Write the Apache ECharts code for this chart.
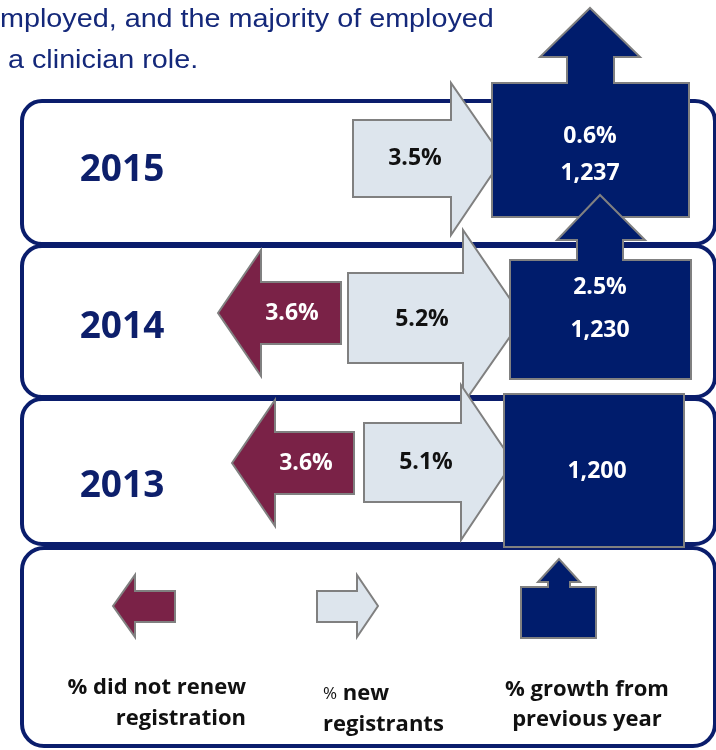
<!DOCTYPE html>
<html>
<head>
<meta charset="utf-8">
<script src="https://cdn.jsdelivr.net/npm/echarts@6/dist/echarts.min.js"></script>
<style>
  html, body { margin: 0; padding: 0; background: #fff; }
  #chart { width: 716px; height: 750px; }
</style>
</head>
<body>
<div id="chart"></div>
<script>
const years = ['2015', '2014', '2013'];
const didNotRenew = [null, 3.6, 3.6];
const newRegistrants = [3.5, 5.2, 5.1];
const growth = [0.6, 2.5, null];
const registered = [1237, 1230, 1200];

const introLines = ['mployed, and the majority of employed', 'a clinician role.'];
const legendDidNotRenew = ['% did not renew', 'registration'];
const legendNew = ['% new', 'registrants'];
const legendGrowth = ['% growth from', 'previous year'];

const NAVY = '#001c6c';
const ROW_LINE = '#0a1d6c';
const MAROON = '#7a2247';
const LIGHT = '#dde5ed';
const EDGE = '#808080';
const TEXT_NAVY = '#0d1f6b';
const FONT = '"Open Sans", "Noto Sans", sans-serif';

// geometry of each row: x in px, y as offset from the row centre
const rowShapes = [
  {
    box: [-71, 72], year: -2,
    light: { x0: 353, x1: 451, y0: -52, y1: 25, h0: -89, h1: 63, tip: [503, -14] }, lightLabel: [415, -14],
    navy: { x0: 492, x1: 689, y0: -89, y1: 45 },
    up: { s0: 567, s1: 614, base: -115, h0: 540, h1: 640, tip: [590, -164] },
    growthLabel: [590, -36], totalLabel: [590, 1]
  },
  {
    box: [-76, 75], year: 5,
    maroon: { tip: [218, -9], hb: 261, h0: -72, h1: 54, x1: 341, y0: -40, y1: 22 }, maroonLabel: [292, -9],
    light: { x0: 348, x1: 463, y0: -49, y1: 41, h0: -92, h1: 82, tip: [523, -4] }, lightLabel: [422, -3],
    navy: { x0: 510, x1: 691, y0: -62, y1: 57 },
    up: { s0: 577, s1: 623, base: -82, h0: 557, h1: 645, tip: [600, -127] },
    growthLabel: [600, -35], totalLabel: [600, 8]
  },
  {
    box: [-73, 72], year: 14,
    maroon: { tip: [232, -9], hb: 275, h0: -72, h1: 54, x1: 354, y0: -40, y1: 22 }, maroonLabel: [306, -9],
    light: { x0: 364, x1: 461, y0: -49, y1: 30, h0: -87, h1: 68, tip: [513, -10] }, lightLabel: [426, -10],
    navy: { x0: 504, x1: 684, y0: -78, y1: 75 },
    up: null,
    totalLabel: [597, -1]
  }
];

const pct = v => v.toFixed(1) + '%';

const rightArrow = (a, X, Y) => [
  [X(a.x0), Y(a.y0)], [X(a.x1), Y(a.y0)], [X(a.x1), Y(a.h0)], [X(a.tip[0]), Y(a.tip[1])],
  [X(a.x1), Y(a.h1)], [X(a.x1), Y(a.y1)], [X(a.x0), Y(a.y1)]
];
const leftArrow = (a, X, Y) => [
  [X(a.tip[0]), Y(a.tip[1])], [X(a.hb), Y(a.h0)], [X(a.hb), Y(a.y0)], [X(a.x1), Y(a.y0)],
  [X(a.x1), Y(a.y1)], [X(a.hb), Y(a.y1)], [X(a.hb), Y(a.h1)]
];
const boxWithUp = (b, u, X, Y) => {
  if (!u) {
    return [[X(b.x0), Y(b.y1)], [X(b.x0), Y(b.y0)], [X(b.x1), Y(b.y0)], [X(b.x1), Y(b.y1)]];
  }
  return [
    [X(b.x0), Y(b.y1)], [X(b.x0), Y(b.y0)], [X(u.s0), Y(b.y0)], [X(u.s0), Y(u.base)],
    [X(u.h0), Y(u.base)], [X(u.tip[0]), Y(u.tip[1])], [X(u.h1), Y(u.base)], [X(u.s1), Y(u.base)],
    [X(u.s1), Y(b.y0)], [X(b.x1), Y(b.y0)], [X(b.x1), Y(b.y1)]
  ];
};

const label = (text, x, y, fill, size) => ({
  type: 'text',
  style: {
    text, x, y, fill,
    font: `bold ${size}px ${FONT}`,
    align: 'center', verticalAlign: 'middle',
    textAlign: 'center', textVerticalAlign: 'middle'
  }
});

function helpers(params, api) {
  const i = params.dataIndex;
  const cy = api.coord([0, i])[1];
  return { i, L: rowShapes[i], X: x => api.coord([x, i])[0], Y: dy => cy + dy };
}

function renderFrame(params, api) {
  const { i, L, X, Y } = helpers(params, api);
  return {
    type: 'group',
    children: [
      {
        type: 'rect',
        shape: { x: X(22), y: Y(L.box[0]), width: X(715) - X(22), height: L.box[1] - L.box[0], r: 20 },
        style: { fill: '#fff', stroke: ROW_LINE, lineWidth: 4 }
      },
      label(years[i], X(122), Y(L.year), TEXT_NAVY, 37)
    ]
  };
}

function renderArrows(params, api) {
  const { i, L, X, Y } = helpers(params, api);
  const children = [];
  if (didNotRenew[i] != null) {
    children.push({
      type: 'polygon',
      shape: { points: leftArrow(L.maroon, X, Y) },
      style: { fill: MAROON, stroke: EDGE, lineWidth: 2 }
    });
    children.push(label(pct(didNotRenew[i]), X(L.maroonLabel[0]), Y(L.maroonLabel[1]), '#fff', 23));
  }
  children.push({
    type: 'polygon',
    shape: { points: rightArrow(L.light, X, Y) },
    style: { fill: LIGHT, stroke: EDGE, lineWidth: 2 }
  });
  children.push(label(pct(newRegistrants[i]), X(L.lightLabel[0]), Y(L.lightLabel[1]), '#111', 23));
  return { type: 'group', children };
}

function renderTotals(params, api) {
  const { i, L, X, Y } = helpers(params, api);
  const children = [{
    type: 'polygon',
    shape: { points: boxWithUp(L.navy, L.up, X, Y) },
    style: { fill: NAVY, stroke: EDGE, lineWidth: 2 }
  }];
  if (growth[i] != null) {
    children.push(label(pct(growth[i]), X(L.growthLabel[0]), Y(L.growthLabel[1]), '#fff', 23));
  }
  children.push(label(registered[i].toLocaleString('en-US'), X(L.totalLabel[0]), Y(L.totalLabel[1]), '#fff', 23));
  return { type: 'group', children };
}

const rowData = years.map((y, i) => [0, i]);

const legendText = (text, x, y, align, rich) => ({
  type: 'text', z: 10,
  style: {
    text, x, y, fill: '#111',
    font: `bold 22px ${FONT}`,
    align, verticalAlign: 'middle', textAlign: align, textVerticalAlign: 'middle',
    rich
  }
});

const chart = echarts.init(document.getElementById('chart'));

chart.setOption({
  animation: false,
  backgroundColor: '#fff',
  grid: { left: 0, right: 0, top: 97, height: 450 },
  xAxis: { type: 'value', min: 0, max: 716, show: false },
  yAxis: { type: 'category', data: years, inverse: true, show: false },
  graphic: [
    {
      type: 'text', x: 0, y: 20, scaleX: 1.15, z: 10,
      style: { text: introLines[0], x: 0, y: 0, fill: '#14287a', font: '25px "Liberation Sans", Arial, sans-serif', verticalAlign: 'middle', textVerticalAlign: 'middle' }
    },
    {
      type: 'text', x: 8, y: 61, scaleX: 1.15, z: 10,
      style: { text: introLines[1], x: 0, y: 0, fill: '#14287a', font: '25px "Liberation Sans", Arial, sans-serif', verticalAlign: 'middle', textVerticalAlign: 'middle' }
    },
    {
      type: 'rect', z: 1,
      shape: { x: 22, y: 548, width: 693, height: 198, r: 22 },
      style: { fill: '#fff', stroke: ROW_LINE, lineWidth: 4 }
    },
    {
      type: 'polygon', z: 10,
      shape: { points: [[113, 606], [135, 575], [135, 591], [175, 591], [175, 622], [135, 622], [135, 637]] },
      style: { fill: MAROON, stroke: EDGE, lineWidth: 2 }
    },
    {
      type: 'polygon', z: 10,
      shape: { points: [[317, 591], [357, 591], [357, 575], [378, 606], [357, 637], [357, 622], [317, 622]] },
      style: { fill: LIGHT, stroke: EDGE, lineWidth: 2 }
    },
    {
      type: 'polygon', z: 10,
      shape: { points: [[521, 638], [521, 587], [548, 587], [548, 582], [538, 582], [559, 559], [580, 582], [570, 582], [570, 587], [596, 587], [596, 638]] },
      style: { fill: NAVY, stroke: EDGE, lineWidth: 2 }
    },
    legendText(legendDidNotRenew[0], 246, 688, 'right'),
    legendText(legendDidNotRenew[1], 246, 719, 'right'),
    legendText('{p|%} {b|new}', 323, 694, 'left', {
      p: { fontSize: 17, fontWeight: 'normal', fontFamily: FONT, fill: '#111' },
      b: { fontSize: 22, fontWeight: 'bold', fontFamily: FONT, fill: '#111' }
    }),
    legendText(legendNew[1], 323, 725, 'left'),
    legendText(legendGrowth[0], 587, 690, 'center'),
    legendText(legendGrowth[1], 587, 720, 'center')
  ],
  series: [
    { type: 'custom', z: 2, clip: false, silent: true, renderItem: renderFrame, data: rowData },
    { type: 'custom', z: 3, clip: false, silent: true, renderItem: renderArrows, data: rowData },
    { type: 'custom', z: 4, clip: false, silent: true, renderItem: renderTotals, data: rowData }
  ]
});

window.addEventListener('resize', () => chart.resize());
</script>
</body>
</html>
